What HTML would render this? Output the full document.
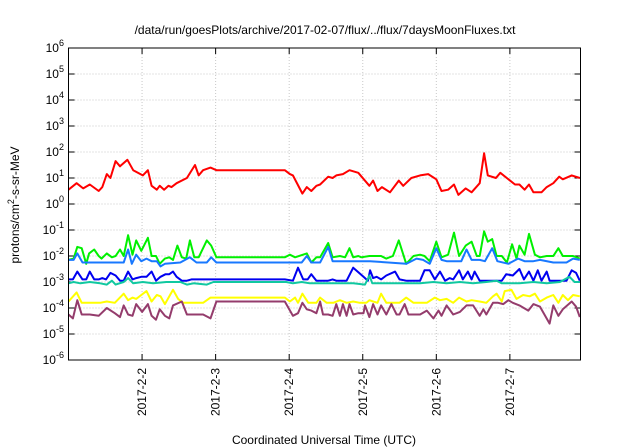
<!DOCTYPE html>
<html><head><meta charset="utf-8"><style>
body{margin:0;background:#fff;width:640px;height:448px;overflow:hidden}
svg{display:block;font-family:"Liberation Sans",sans-serif}
</style></head><body>
<svg id="chart" width="640" height="448" viewBox="0 0 640 448">
<text x="325" y="34" font-size="12" text-anchor="middle" fill="#000">/data/run/goesPlots/archive/2017-02-07/flux/../flux/7daysMoonFluxes.txt</text>
<g id="grid"></g>
<g id="axes"></g>
<g id="series"></g>
<rect x="68.5" y="48" width="512" height="312" fill="none" stroke="#000" stroke-width="1"/>
<text transform="translate(19,205) rotate(-90)" font-size="12" text-anchor="middle">protons/cm<tspan dy="-5" font-size="9">2</tspan><tspan dy="5">-s-sr-MeV</tspan></text>
<text x="324" y="444" font-size="12" text-anchor="middle">Coordinated Universal Time (UTC)</text>
</svg>
<script>
const xTickLabels=["2017-2-2","2017-2-3","2017-2-4","2017-2-5","2017-2-6","2017-2-7"];
const xTickDays=[1,2,3,4,5,6];
const yTickExps=[-6,-5,-4,-3,-2,-1,0,1,2,3,4,5,6];
const seriesNames=["red","green","lightblue","blue","teal","yellow","purple"];
const seriesColors=["#ff0000","#00f000","#1878ff","#0000f0","#10c8a0","#ffff00","#943c6c"];
const redT=[0,0.11,0.2,0.29,0.41,0.46,0.52,0.57,0.64,0.7,0.8,0.88,1.01,1.08,1.13,1.2,1.24,1.3,1.36,1.4,1.47,1.61,1.72,1.77,1.83,1.93,2.01,2.94,3.01,3.05,3.18,3.24,3.3,3.37,3.42,3.53,3.59,3.64,3.73,3.82,3.94,4.09,4.14,4.2,4.26,4.37,4.49,4.55,4.66,4.78,4.89,5.0,5.07,5.16,5.24,5.3,5.4,5.48,5.59,5.65,5.7,5.81,5.87,6.07,6.13,6.2,6.26,6.32,6.43,6.5,6.59,6.67,6.72,6.84,6.95];
const redV=[0.55,0.8,0.6,0.75,0.5,0.65,1.15,1.0,1.65,1.45,1.7,1.3,1.1,1.3,0.7,0.55,0.7,0.55,0.7,0.65,0.8,1.0,1.5,1.1,1.3,1.4,1.3,1.3,1.15,1.1,0.4,0.65,0.5,0.7,0.75,1.05,1.0,1.1,1.15,1.3,1.2,0.7,0.9,0.5,0.65,0.45,0.9,0.7,1.0,1.1,1.15,0.95,0.5,0.55,0.75,0.35,0.6,0.45,0.8,1.95,1.1,1.0,1.2,0.75,0.75,0.55,0.75,0.45,0.45,0.65,0.8,1.05,0.95,1.1,1.0];
const greenT=[0,0.07,0.12,0.18,0.24,0.28,0.35,0.41,0.45,0.52,0.59,0.64,0.7,0.75,0.81,0.87,0.92,0.99,1.08,1.13,1.19,1.24,1.31,1.37,1.42,1.48,1.54,1.6,1.65,1.71,1.77,1.88,1.94,2.01,2.94,3.01,3.08,3.24,3.3,3.37,3.42,3.53,3.59,3.69,3.76,3.82,3.87,3.94,3.98,4.09,4.25,4.32,4.41,4.49,4.59,4.69,4.78,4.84,4.91,5.0,5.07,5.16,5.24,5.31,5.4,5.48,5.55,5.59,5.65,5.7,5.76,5.82,5.89,5.96,6.03,6.09,6.13,6.2,6.26,6.34,6.41,6.5,6.59,6.66,6.72,6.86,6.95];
const greenV=[-2.15,-2.1,-1.65,-1.7,-2.3,-1.9,-1.75,-2.0,-2.1,-1.9,-2.05,-2.0,-1.75,-2.0,-1.2,-1.95,-1.4,-1.8,-1.3,-2.0,-2.0,-2.3,-2.1,-2.05,-2.15,-1.6,-2.05,-2.1,-1.4,-2.05,-2.05,-1.4,-1.6,-2.05,-2.05,-1.95,-2.05,-1.9,-2.25,-2.05,-2.05,-1.5,-2.05,-2.0,-2.05,-1.7,-2.05,-2.0,-2.05,-2.0,-2.0,-2.1,-2.0,-1.4,-2.3,-2.0,-1.95,-2.0,-2.2,-1.45,-2.05,-1.95,-1.1,-2.0,-1.6,-1.45,-2.0,-2.0,-1.05,-1.45,-1.35,-2.0,-2.0,-2.25,-1.55,-2.1,-1.6,-1.95,-1.15,-1.95,-2.05,-2.0,-2.0,-1.7,-2.0,-2.0,-2.1];
const lightblueT=[0,0.07,0.12,0.19,0.75,0.81,0.86,0.92,0.99,1.06,1.13,1.2,1.25,1.31,1.52,1.65,1.74,1.88,1.94,2.01,3.17,3.24,3.3,3.42,3.53,3.59,4.1,4.59,4.73,4.82,4.91,5.0,5.07,5.14,5.34,5.41,5.48,5.59,5.66,5.76,5.83,5.98,6.11,6.2,6.32,6.41,6.59,6.77,6.86,6.95];
const lightblueV=[-2.15,-2.15,-1.9,-2.25,-2.25,-1.75,-2.3,-1.95,-2.2,-2.1,-2.2,-2.2,-2.4,-2.3,-2.25,-2.05,-2.25,-2.25,-2.05,-2.25,-2.25,-2.0,-2.25,-2.25,-1.65,-2.2,-2.2,-2.3,-2.1,-2.15,-2.3,-1.7,-2.15,-2.2,-2.2,-1.75,-2.15,-2.15,-2.2,-1.7,-2.2,-2.3,-2.1,-2.2,-2.2,-2.15,-2.25,-2.25,-2.1,-2.15];
const blueT=[0,0.06,0.12,0.19,0.24,0.29,0.35,0.41,0.46,0.51,0.57,0.64,0.7,0.75,0.81,0.87,0.92,0.99,1.06,1.13,1.19,1.25,1.32,1.37,1.42,1.47,1.54,1.61,1.67,2.94,3.05,3.12,3.19,3.25,3.3,3.37,3.42,3.53,3.59,3.64,3.78,3.87,4.01,4.07,4.1,4.14,4.19,4.25,4.32,4.44,4.5,4.59,4.78,4.84,4.91,4.98,5.05,5.12,5.18,5.23,5.31,5.36,5.43,5.48,5.52,5.59,5.68,5.89,5.95,6.04,6.13,6.19,6.26,6.32,6.38,6.43,6.5,6.54,6.77,6.84,6.9,6.95];
const blueV=[-2.9,-2.9,-2.6,-2.9,-2.9,-2.6,-2.9,-2.9,-2.85,-2.9,-2.65,-2.75,-2.95,-2.95,-2.6,-2.9,-2.85,-2.8,-2.8,-2.6,-2.95,-2.8,-2.7,-2.7,-2.6,-2.8,-2.95,-2.95,-2.9,-2.9,-2.95,-2.45,-2.9,-2.9,-2.7,-2.95,-2.95,-2.95,-2.9,-2.95,-2.95,-2.45,-2.8,-2.95,-2.55,-2.85,-2.8,-2.9,-2.75,-2.6,-2.9,-2.95,-2.95,-2.55,-2.55,-2.9,-2.6,-2.95,-2.85,-2.9,-2.55,-2.9,-2.6,-2.9,-2.6,-2.95,-2.95,-2.95,-2.7,-2.75,-2.5,-2.9,-2.6,-2.95,-2.55,-2.95,-2.6,-2.95,-2.95,-2.55,-2.65,-2.95];
const tealT=[0,0.07,0.16,0.29,0.43,0.52,0.59,0.64,0.75,0.81,0.88,1.01,1.15,1.33,1.52,1.61,1.7,1.88,1.97,2.96,3.05,3.17,3.28,3.42,3.64,3.87,4.03,4.09,4.13,4.32,4.5,4.78,4.96,5.14,5.32,5.5,5.68,5.82,5.89,6.13,6.32,6.5,6.68,6.81,6.88,6.95];
const tealV=[-3.05,-3.0,-3.05,-3.0,-3.05,-3.1,-2.95,-3.1,-3.0,-2.85,-3.05,-3.0,-3.05,-3.0,-3.0,-3.1,-3.05,-3.1,-3.0,-3.0,-3.05,-3.0,-3.05,-3.05,-3.05,-3.05,-3.1,-2.75,-3.05,-3.05,-3.05,-3.05,-3.0,-3.05,-3.0,-3.05,-3.0,-2.95,-3.05,-3.05,-3.0,-3.05,-3.0,-2.8,-3.0,-3.0];
const yellowT=[0,0.11,0.18,0.43,0.52,0.63,0.75,0.81,0.87,0.92,0.99,1.06,1.13,1.2,1.25,1.31,1.42,1.49,1.56,1.83,1.93,2.94,3.01,3.08,3.12,3.18,3.26,3.37,3.42,3.51,3.6,3.69,3.78,3.87,3.96,4.05,4.09,4.14,4.2,4.25,4.32,4.5,4.59,4.69,4.87,4.98,5.05,5.14,5.23,5.31,5.41,5.48,5.59,5.68,5.77,5.82,5.89,5.93,6.02,6.09,6.18,6.27,6.34,6.41,6.5,6.59,6.66,6.72,6.79,6.86,6.95];
const yellowV=[-3.75,-3.4,-3.8,-3.8,-3.75,-3.8,-3.45,-3.7,-3.6,-3.65,-3.5,-3.35,-3.75,-3.5,-3.55,-3.85,-3.3,-3.65,-3.8,-3.8,-3.6,-3.6,-3.75,-3.6,-3.8,-3.45,-3.8,-3.8,-3.6,-3.8,-3.8,-3.7,-3.8,-3.75,-3.8,-3.8,-3.7,-3.75,-3.8,-3.45,-3.8,-3.8,-3.6,-3.8,-3.8,-3.6,-3.7,-3.65,-3.8,-3.6,-3.75,-3.7,-3.75,-3.8,-3.55,-3.45,-3.75,-3.35,-3.3,-3.65,-3.5,-3.55,-3.45,-3.75,-3.6,-3.5,-3.8,-3.5,-3.7,-3.5,-3.55];
const purpleT=[0,0.06,0.12,0.18,0.29,0.41,0.52,0.63,0.7,0.75,0.81,0.87,0.92,1.0,1.08,1.13,1.19,1.24,1.31,1.37,1.42,1.54,1.61,1.83,1.93,2.01,2.94,3.05,3.12,3.18,3.24,3.3,3.37,3.42,3.46,3.53,3.59,3.64,3.69,3.73,3.78,3.82,3.87,3.94,4.01,4.03,4.09,4.14,4.2,4.25,4.32,4.39,4.46,4.5,4.57,4.62,4.78,4.87,4.96,5.03,5.07,5.14,5.23,5.32,5.41,5.5,5.59,5.64,5.68,5.77,5.84,5.91,5.98,6.04,6.13,6.25,6.32,6.41,6.54,6.59,6.66,6.72,6.84,6.9,6.95];
const purpleV=[-4.25,-4.4,-3.7,-4.25,-4.25,-4.3,-4.0,-4.2,-4.35,-3.9,-4.25,-4.3,-3.85,-4.15,-3.85,-4.3,-4.45,-4.05,-4.3,-4.4,-3.9,-3.75,-4.25,-4.25,-4.4,-3.75,-3.75,-4.3,-4.2,-3.8,-4.05,-4.1,-4.2,-3.75,-4.25,-4.25,-4.3,-3.85,-4.3,-3.85,-4.3,-3.85,-4.25,-4.2,-4.2,-3.9,-4.35,-3.85,-4.25,-3.9,-4.25,-3.85,-4.25,-4.25,-3.85,-4.25,-4.25,-4.1,-4.4,-4.1,-4.3,-3.9,-4.25,-4.15,-3.9,-3.9,-4.3,-4.05,-4.25,-3.8,-3.8,-3.85,-3.7,-3.8,-3.9,-4.1,-3.85,-3.95,-4.6,-3.9,-4.3,-4.05,-3.75,-3.95,-4.35];

const L=68.5,R=580.5,T=48,B=360,D0=0,D1=6.96,E0=-6,E1=6;
const xS=d=>L+(d-D0)/(D1-D0)*(R-L);
const yS=e=>B-(e-E0)/(E1-E0)*(B-T);
const NS="http://www.w3.org/2000/svg";
function mk(tag,attrs,parent){const el=document.createElementNS(NS,tag);for(const k in attrs)el.setAttribute(k,attrs[k]);parent.appendChild(el);return el;}
const grid=document.getElementById('grid'),axes=document.getElementById('axes'),ser=document.getElementById('series');
yTickExps.forEach(e=>{
  const y=yS(e);
  if(e>E0&&e<E1){
    const g=mk('line',{x1:L,x2:R,y1:y,y2:y,stroke:'#c8c8c8','stroke-width':1,'stroke-dasharray':'1,2'},grid);
    
    
  }
  const t1=mk('line',{x1:L,x2:L+6,y1:y,y2:y,stroke:'#000'},axes);
  
  
  const t2=mk('line',{x1:R-6,x2:R,y1:y,y2:y,stroke:'#000'},axes);
  
  
  const tx=mk('text',{x:54,y:y+4,'font-size':12,'text-anchor':'end'},axes);
  tx.textContent='10';
  const sp=mk('tspan',{dy:-6,'font-size':9,x:null},tx);
  sp.removeAttribute('x');
  sp.textContent=String(e);
  
  
});
// adjust y labels so superscript right-aligns
axes.querySelectorAll('text').forEach(t=>{t.setAttribute('text-anchor','start');const w=t.getComputedTextLength();t.setAttribute('x',64-w);});
xTickDays.forEach((d,i)=>{
  const x=xS(d);
  const g=mk('line',{x1:x,x2:x,y1:T,y2:B,stroke:'#c8c8c8','stroke-width':1,'stroke-dasharray':'1,2'},grid);
  
  
  const t1=mk('line',{x1:x,x2:x,y1:B-6,y2:B,stroke:'#000'},axes);
  
  
  const t2=mk('line',{x1:x,x2:x,y1:T,y2:T+6,stroke:'#000'},axes);
  
  
  const tx=mk('text',{transform:`translate(${x+4},368) rotate(-90)`,'font-size':12,'text-anchor':'end'},axes);
  tx.textContent=xTickLabels[i];
  
  
});
const allT=[redT,greenT,lightblueT,blueT,tealT,yellowT,purpleT];
const allV=[redV,greenV,lightblueV,blueV,tealV,yellowV,purpleV];
allT.forEach((ts,i)=>{
  const pts=ts.map((t,j)=>xS(t).toFixed(1)+','+yS(allV[i][j]).toFixed(1)).join(' ');
  const pl=mk('polyline',{points:pts,fill:'none',stroke:seriesColors[i],'stroke-width':2,'stroke-linejoin':'round'},ser);
  
  
});
</script>
</body></html>
